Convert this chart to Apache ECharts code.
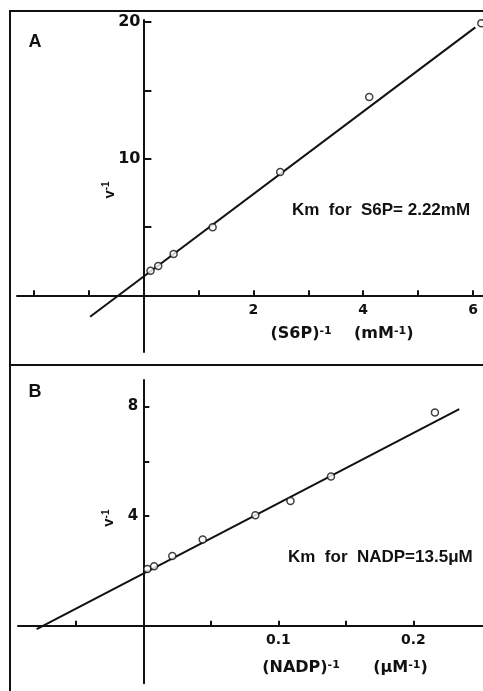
<!DOCTYPE html>
<html>
<head>
<meta charset="utf-8">
<script src="https://cdn.jsdelivr.net/npm/echarts@6/dist/echarts.min.js"></script>
<style>
html,body{margin:0;padding:0;background:#fff;}
#chart{width:483px;height:691px;}
</style>
</head>
<body>
<div id="chart"></div>
<script>
// Panel A: S6P
const s6pX = [0.13, 0.27, 0.55, 1.26, 2.49, 4.11, 6.15];
const s6pY = [1.80, 2.14, 3.02, 4.97, 9.02, 14.5, 19.9];
const fitAX = [-0.97, 6.04];
const fitAY = [-1.57, 19.6];
const aXTicks = [-2, -1, 1, 2, 3, 4, 5, 6];
const aXLabels = [2, 4, 6];
const aYTicks = [5, 10, 15, 20];
const aYLabels = [10, 20];

// Panel B: NADP
const nadpX = [0.003, 0.008, 0.0215, 0.044, 0.083, 0.109, 0.139, 0.216];
const nadpY = [2.07, 2.17, 2.55, 3.15, 4.03, 4.55, 5.45, 7.78];
const fitBX = [-0.079, 0.234];
const fitBY = [-0.12, 7.91];
const bXTicks = [-0.05, 0.05, 0.1, 0.15, 0.2];
const bXLabels = [0.1, 0.2];
const bYTicks = [2, 4, 6, 8];
const bYLabels = [4, 8];

const ink = '#111';
const FF = '"Liberation Sans", Arial, sans-serif';
const FD = '"DejaVu Sans", "Liberation Sans", sans-serif';
const pairs = (xs, ys) => xs.map((x, i) => [x, ys[i]]);

const grids = [
  {left: 17, top: 20, width: 466, height: 332, outerBoundsMode: 'none', containLabel: false},
  {left: 18, top: 380, width: 465, height: 303.3, outerBoundsMode: 'none', containLabel: false}
];
const ranges = {
  ax: [-2.3, 6.18], ay: [-4.15, 20.14],
  bx: [-0.0928, 0.2516], by: [-2.1, 8.97]
};

const chart = echarts.init(document.getElementById('chart'), null, {renderer: 'canvas'});

const supRich = {sup: {fontSize: 11, fontWeight: 'bold', fontFamily: FD, color: ink, verticalAlign: 'top', padding: [0,0,6,0]}};

function xAxisCfg(gi, rng, yrng, ticks, labels, name, gap, pad) {
  const h = grids[gi].height;
  const off = -((0 - yrng[0]) / (yrng[1] - yrng[0])) * h; // move axis up to y = 0
  return {
    type: 'value', gridIndex: gi, min: rng[0], max: rng[1], position: 'bottom', offset: off,
    splitLine: {show: false},
    axisLine: {onZero: false, lineStyle: {color: ink, width: 2}},
    axisTick: {show: true, inside: true, length: 5, customValues: ticks, lineStyle: {color: ink, width: 2}},
    axisLabel: {customValues: labels, margin: 8, color: ink, fontSize: 14, fontWeight: 'bold', fontFamily: FD},
    name: name, nameLocation: 'middle', nameGap: gap, nameMoveOverlap: false,
    nameTextStyle: {color: ink, fontSize: 16, fontWeight: 'bold', fontFamily: FD, padding: pad, rich: supRich}
  };
}
function yAxisCfg(gi, rng, xrng, ticks, labels, tickLen, margin, fs, gap, pad) {
  const w = grids[gi].width;
  const off = -((0 - xrng[0]) / (xrng[1] - xrng[0])) * w; // move axis right to x = 0
  return {
    type: 'value', gridIndex: gi, min: rng[0], max: rng[1], position: 'left', offset: off,
    splitLine: {show: false},
    axisLine: {onZero: false, lineStyle: {color: ink, width: 2}},
    axisTick: {show: true, inside: true, length: tickLen, customValues: ticks, lineStyle: {color: ink, width: 2}},
    axisLabel: {customValues: labels, margin: margin, color: ink, fontSize: fs, fontWeight: 'bold', fontFamily: FD},
    name: 'v{sup|-1}', nameLocation: 'middle', nameRotate: 90, nameGap: gap, nameMoveOverlap: false,
    nameTextStyle: {color: ink, fontSize: 15, fontWeight: 'bold', fontFamily: FF, padding: pad,
      rich: {sup: {fontSize: 10, fontWeight: 'bold', fontFamily: FF, color: ink, verticalAlign: 'top', padding: [0,0,6,0]}}}
  };
}

const option = {
  backgroundColor: '#fff',
  animation: false,
  grid: grids,
  xAxis: [
    xAxisCfg(0, ranges.ax, ranges.ay, aXTicks, aXLabels, '(S6P){sup|-1}    (mM{sup|-1})', 30, [0,0,0,184]),
    xAxisCfg(1, ranges.bx, ranges.by, bXTicks, bXLabels, '(NADP){sup|-1}      (\u03bcM{sup|-1})', 34, [0,0,0,189])
  ],
  yAxis: [
    yAxisCfg(0, ranges.ay, ranges.ax, aYTicks, aYLabels, 8, 3, 16, 26, [0,8,0,0]),
    yAxisCfg(1, ranges.by, ranges.bx, bYTicks, bYLabels, 6, 5, 15, 26, [0,0,0,27])
  ],
  series: [
    {type: 'line', xAxisIndex: 0, yAxisIndex: 0, data: pairs(fitAX, fitAY), symbol: 'none',
      lineStyle: {color: ink, width: 2}, z: 2, clip: false},
    {type: 'scatter', xAxisIndex: 0, yAxisIndex: 0, data: pairs(s6pX, s6pY), symbol: 'circle', symbolSize: 7,
      itemStyle: {color: '#fff', borderColor: ink, borderWidth: 1.5}, z: 3, clip: false},
    {type: 'line', xAxisIndex: 1, yAxisIndex: 1, data: pairs(fitBX, fitBY), symbol: 'none',
      lineStyle: {color: ink, width: 2}, z: 2, clip: false},
    {type: 'scatter', xAxisIndex: 1, yAxisIndex: 1, data: pairs(nadpX, nadpY), symbol: 'circle', symbolSize: 7,
      itemStyle: {color: '#fff', borderColor: ink, borderWidth: 1.5}, z: 3, clip: false}
  ],
  graphic: [
    {type: 'line', shape: {x1: 10, y1: 11, x2: 483, y2: 11}, style: {stroke: ink, lineWidth: 2}},
    {type: 'line', shape: {x1: 10, y1: 10, x2: 10, y2: 691}, style: {stroke: ink, lineWidth: 2}},
    {type: 'line', shape: {x1: 10, y1: 365, x2: 483, y2: 365}, style: {stroke: ink, lineWidth: 2}},
    {type: 'text', x: 35, y: 42, style: {text: 'A', fill: ink, font: 'bold 18px ' + FF, align: 'center', verticalAlign: 'middle'}},
    {type: 'text', x: 35, y: 392, style: {text: 'B', fill: ink, font: 'bold 18px ' + FF, align: 'center', verticalAlign: 'middle'}},
    {type: 'text', x: 292, y: 210, style: {text: 'Km  for  S6P= 2.22mM', fill: ink, font: 'bold 17px ' + FF, align: 'left', verticalAlign: 'middle'}},
    {type: 'text', x: 288, y: 557, style: {text: 'Km  for  NADP=13.5\u03bcM', fill: ink, font: 'bold 17px ' + FF, align: 'left', verticalAlign: 'middle'}}
  ]
};
chart.setOption(option);
</script>
</body>
</html>
